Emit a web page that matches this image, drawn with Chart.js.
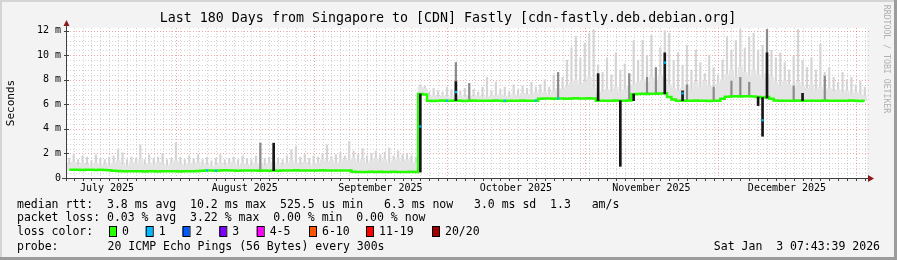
<!DOCTYPE html>
<html>
<head>
<meta charset="utf-8">
<script src="https://cdn.jsdelivr.net/npm/chart.js@4.4.1/dist/chart.umd.min.js"></script>
<style>
html, body { margin: 0; padding: 0; background: #f3f3f3; }
canvas { display: block; }
</style>
</head>
<body>
<canvas id="grafico" width="897" height="260"></canvas>
<script>
// eixo x em dias desde 1 jul 2025 (0 = 1 jul 00:00)
const primeiroDia = 7   // x da primeira amostra diaria

// mediana diaria (ms)
const mediana = [
  0.68,0.67,0.68,0.66,0.67,0.68,0.66,0.67,0.65,0.64,
  0.6,0.58,0.56,0.55,0.54,0.56,0.55,0.53,0.54,0.55,
  0.53,0.55,0.54,0.56,0.55,0.53,0.54,0.55,0.56,0.58,
  0.6,0.61,0.62,0.6,0.62,0.63,0.61,0.62,0.6,0.62,
  0.62,0.61,0.62,0.6,0.61,0.6,0.62,0.6,0.62,0.61,
  0.62,0.63,0.62,0.62,0.61,0.62,0.62,0.63,0.62,0.61,
  0.62,0.62,0.62,0.61,0.5,0.49,0.48,0.49,0.5,0.49,
  0.5,0.49,0.49,0.5,0.49,0.49,0.49,0.5,0.49,6.85,
  6.8,6.3,6.28,6.3,6.31,6.29,6.3,6.32,6.3,6.28,
  6.3,6.31,6.3,6.29,6.3,6.3,6.32,6.3,6.28,6.3,
  6.3,6.29,6.31,6.3,6.3,6.3,6.45,6.47,6.48,6.46,
  6.48,6.47,6.46,6.48,6.5,6.48,6.47,6.49,6.48,6.3,
  6.3,6.29,6.3,6.31,6.3,6.3,6.32,6.82,6.85,6.86,
  6.85,6.87,6.86,6.88,6.9,6.6,6.4,6.3,6.3,6.29,
  6.3,6.31,6.3,6.3,6.28,6.3,6.29,6.45,6.62,6.64,
  6.65,6.64,6.66,6.65,6.64,6.6,6.55,6.6,6.45,6.32,
  6.3,6.3,6.29,6.3,6.31,6.3,6.3,6.29,6.3,6.3,
  6.31,6.3,6.3,6.29,6.3,6.3,6.31,6.3,6.28,6.3
]

// topo da fumaca densa (ms)
const fumacaCorpo = [
  1.1,1.3,1.0,1.2,1.1,0.9,1.2,1.0,1.1,1.0,
  1.2,1.4,1.1,1.0,1.3,1.2,1.5,1.1,1.2,1.0,
  1.3,1.1,1.0,1.2,1.4,1.1,1.0,1.2,1.1,1.3,
  1.0,1.1,0.9,1.0,1.2,1.0,1.1,1.3,1.0,1.2,
  1.1,1.0,1.2,1.1,1.0,1.2,1.3,1.1,1.0,1.2,
  1.4,1.2,1.1,1.3,1.0,1.1,1.2,1.5,1.3,1.4,
  1.2,1.3,1.5,1.4,1.6,1.3,1.5,1.2,1.4,1.6,
  1.3,1.5,1.2,1.4,1.6,1.3,1.5,1.2,1.3,7.4,
  7.3,6.6,6.7,6.6,6.7,6.6,6.6,6.8,6.7,6.6,
  6.7,6.6,6.7,6.6,6.6,6.7,6.7,6.8,6.7,6.6,
  6.8,6.7,6.9,6.8,6.8,7.0,6.9,7.0,6.8,7.1,
  7.3,7.2,7.5,7.8,8.0,7.6,7.8,8.2,7.3,6.9,
  7.0,7.2,7.0,7.4,7.0,7.2,7.5,7.6,7.8,8.0,
  7.8,8.2,7.9,8.4,8.1,7.6,7.3,7.1,7.3,7.6,
  7.2,7.8,7.4,7.9,7.5,7.3,7.7,8.0,8.4,8.8,
  8.2,9.0,8.6,8.3,8.8,8.4,8.1,8.5,8.2,7.8,
  7.5,7.9,7.6,7.3,7.8,7.5,7.3,7.6,7.2,7.4,
  7.1,7.3,7.0,7.2,6.9,7.1,6.8,7.0,6.8,6.7
]

// pico da fumaca (ms)
const fumacaMax = [
  1.6,1.9,1.5,1.8,1.7,1.4,1.9,1.6,1.5,1.7,
  1.8,2.3,2.05,1.5,1.7,1.6,2.7,1.5,1.9,1.6,
  1.7,2.0,1.5,1.6,2.87,1.7,1.5,1.8,1.6,1.9,
  1.5,1.7,1.4,1.6,1.9,1.5,1.6,1.7,1.5,1.8,
  1.6,1.5,1.8,2.85,1.6,1.7,1.9,1.6,1.5,1.8,
  2.3,2.55,1.7,1.9,1.6,1.8,1.7,2.0,2.7,1.75,
  1.9,2.1,1.8,2.97,2.2,1.9,2.4,1.8,2.0,2.2,
  1.9,2.1,2.45,1.8,2.2,1.9,2.0,1.8,1.7,7.6,
  7.5,7.0,7.3,7.1,7.0,7.4,7.2,9.4,7.1,7.3,
  7.7,7.2,7.0,7.4,8.2,7.1,7.8,7.2,7.4,7.0,
  7.6,7.2,7.5,7.3,7.8,7.4,7.6,8.0,7.4,8.4,
  8.6,8.2,9.6,10.6,11.5,9.8,11.0,11.8,12.1,9.2,
  8.6,9.8,8.4,10.2,8.8,9.3,8.5,11.2,9.6,11.2,
  10.0,11.6,9.0,10.6,12.0,11.8,9.6,10.2,9.2,10.8,
  8.8,10.4,9.4,8.5,10.0,9.0,8.4,9.6,11.5,10.4,
  11.2,12.1,10.6,11.5,11.8,10.4,10.8,12.1,10.4,9.8,
  10.2,9.4,8.8,9.9,12.1,9.6,9.0,9.8,8.8,10.9,
  8.6,9.0,8.2,7.8,8.6,8.0,8.2,7.6,7.9,7.4
]

// riscos cinza escuro (indice da amostra, de, ate)
const cinzaIdx = [43, 87, 90, 110, 126, 130, 132, 139, 145, 149, 151, 153, 157, 163, 170]
const cinzaDe  = [0.62, 6.3, 6.3, 6.47, 6.3, 6.85, 6.85, 6.3, 6.3, 6.64, 6.64, 6.64, 6.6, 6.3, 6.3]
const cinzaAte = [2.85, 9.4, 7.7, 8.6, 8.5, 8.2, 9.0, 7.6, 7.4, 7.9, 8.2, 7.8, 12.1, 7.5, 8.3]

// riscos pretos
const pretoIdx = [46, 79, 87, 119, 124, 127, 134, 138, 155, 156, 157, 165]
const pretoDe  = [0.6, 0.49, 6.3, 6.3, 0.95, 6.3, 6.85, 6.3, 5.9, 3.4, 6.5, 6.3]
const pretoAte = [2.84, 6.85, 7.85, 8.5, 6.3, 6.85, 10.2, 7.1, 6.6, 6.55, 10.2, 6.9]

// pontos com perda 1/20
const perdaIdx = [31, 33, 79, 85, 87, 98, 105, 110, 134, 138, 156]
const perdaVal = [0.62, 0.6, 4.2, 6.3, 7.0, 6.3, 6.3, 6.47, 9.4, 6.9, 4.7]

// meses
const inicioMes = [31, 62, 92, 123, 153, 184]
const meioMes = [15.5, 46.5, 77, 107.5, 138, 168.5]
const nomeMes = ['July 2025', 'August 2025', 'September 2025', 'October 2025', 'November 2025', 'December 2025']
const yTicks = [0, 2, 4, 6, 8, 10, 12]

const corPerda = ['#26ff00', '#00b8ff', '#0059ff', '#7e00ff', '#ff00ff', '#ff5500', '#ff0000', '#a10000']
const nomePerda = ['0', '1', '2', '3', '4-5', '6-10', '11-19', '20/20']
const xPerda = [109, 145.7, 182.5, 219.3, 256.7, 309, 366, 432]

const MONO = '"DejaVu Sans Mono", monospace'
const CINZA_GRADE = 'rgba(150,150,150,0.42)'
const VERMELHO_GRADE = 'rgba(225,80,80,0.5)'

function serie(vals) {
  return vals.map((v, i) => ({ x: primeiroDia + i, y: v }))
}
function faixa(idx, de, ate) {
  return idx.map((k, j) => ({ x: primeiroDia + k, y: [de[j], ate[j]] }))
}

const moldura = {
  id: 'moldura',
  beforeDraw(chart) {
    const ctx = chart.ctx, a = chart.chartArea
    ctx.save()
    ctx.fillStyle = '#f3f3f3'
    ctx.fillRect(0, 0, chart.width, chart.height)
    ctx.fillStyle = '#ffffff'
    ctx.fillRect(a.left, a.top, a.right - a.left, a.bottom - a.top)
    ctx.restore()
  },
  beforeDatasetsDraw(chart) {
    const ctx = chart.ctx, a = chart.chartArea
    const xs = chart.scales.x, ys = chart.scales.y
    ctx.save()
    ctx.lineWidth = 1
    ctx.setLineDash([1, 2])
    // linhas horizontais
    for (let k = 1; k <= 30; k++) {
      const y = Math.round(ys.getPixelForValue(k * 0.4)) + 0.5
      ctx.strokeStyle = k % 5 === 0 ? VERMELHO_GRADE : CINZA_GRADE
      ctx.beginPath(); ctx.moveTo(a.left, y); ctx.lineTo(a.right + 3, y); ctx.stroke()
    }
    // linhas verticais a cada 2 dias
    ctx.strokeStyle = CINZA_GRADE
    for (let d = 8; d < 187; d += 2) {
      if (inicioMes.includes(d)) continue
      const x = Math.round(xs.getPixelForValue(d)) + 0.5
      ctx.beginPath(); ctx.moveTo(x, a.top); ctx.lineTo(x, a.bottom); ctx.stroke()
    }
    ctx.strokeStyle = VERMELHO_GRADE
    inicioMes.forEach((d) => {
      const x = Math.round(xs.getPixelForValue(d)) + 0.5
      ctx.beginPath(); ctx.moveTo(x, a.top); ctx.lineTo(x, a.bottom); ctx.stroke()
    })
    ctx.restore()
  },
  afterDatasetsDraw(chart) {
    const ctx = chart.ctx, a = chart.chartArea
    const xs = chart.scales.x, ys = chart.scales.y
    ctx.save()
    ctx.strokeStyle = '#404040'
    ctx.lineWidth = 1
    // eixos
    ctx.beginPath()
    ctx.moveTo(a.left - 0.5, a.bottom + 3); ctx.lineTo(a.left - 0.5, a.top - 4)
    ctx.moveTo(a.left - 5, a.bottom + 0.5); ctx.lineTo(a.right + 3, a.bottom + 0.5)
    ctx.stroke()
    // marcas
    ctx.beginPath()
    yTicks.forEach((v) => {
      const y = Math.round(ys.getPixelForValue(v)) + 0.5
      ctx.moveTo(a.left - 3, y); ctx.lineTo(a.left + 2, y)
    })
    for (let d = 8; d < 187; d += 2) {
      const x = Math.round(xs.getPixelForValue(d)) + 0.5
      ctx.moveTo(x, a.bottom); ctx.lineTo(x, a.bottom + 3)
    }
    ctx.stroke()
    // setas
    ctx.fillStyle = '#8b1a1a'
    ctx.beginPath()
    ctx.moveTo(a.left - 3.5, a.top - 2); ctx.lineTo(a.left + 2.5, a.top - 2); ctx.lineTo(a.left - 0.5, a.top - 8)
    ctx.closePath(); ctx.fill()
    ctx.beginPath()
    ctx.moveTo(a.right + 1, a.bottom - 3); ctx.lineTo(a.right + 1, a.bottom + 4); ctx.lineTo(a.right + 7, a.bottom + 0.5)
    ctx.closePath(); ctx.fill()
    ctx.restore()
  },
  afterDraw(chart) {
    const ctx = chart.ctx
    ctx.save()
    ctx.fillStyle = '#000'
    ctx.textBaseline = 'middle'
    // titulo
    ctx.font = '13.3px ' + MONO
    ctx.textAlign = 'center'
    ctx.fillText('Last 180 Days from Singapore to [CDN] Fastly [cdn-fastly.deb.debian.org]', 448, 19)
    // Seconds
    ctx.font = '11px ' + MONO
    ctx.save()
    ctx.translate(11, 103)
    ctx.rotate(-Math.PI / 2)
    ctx.fillText('Seconds', 0, 0)
    ctx.restore()
    // assinatura lateral
    ctx.save()
    ctx.font = '8.2px ' + MONO
    ctx.fillStyle = '#b0b0b0'
    ctx.translate(886, 59)
    ctx.rotate(Math.PI / 2)
    ctx.fillText('RRDTOOL / TOBI OETIKER', 0, 0)
    ctx.restore()
    // legenda
    ctx.font = '11.5px ' + MONO
    ctx.textAlign = 'left'
    ctx.fillText('median rtt:  3.8 ms avg  10.2 ms max  525.5 us min   6.3 ms now   3.0 ms sd  1.3   am/s', 17, 205)
    ctx.fillText('packet loss: 0.03 % avg  3.22 % max  0.00 % min  0.00 % now', 17, 218.5)
    ctx.fillText('loss color:', 17, 232.3)
    nomePerda.forEach((t, i) => {
      ctx.fillStyle = corPerda[i]
      ctx.fillRect(xPerda[i], 227, 7, 9)
      ctx.strokeStyle = '#000'
      ctx.lineWidth = 1
      ctx.strokeRect(xPerda[i] + 0.5, 226.5, 7, 10)
      ctx.fillStyle = '#000'
      ctx.fillText(t, xPerda[i] + 13, 232.3)
    })
    ctx.fillText('probe:', 17, 246.7)
    ctx.fillText('20 ICMP Echo Pings (56 Bytes) every 300s', 107.6, 246.7)
    ctx.textAlign = 'right'
    ctx.fillText('Sat Jan  3 07:43:39 2026', 880, 246.7)
    // moldura externa
    ctx.fillStyle = '#d4d4d4'
    ctx.fillRect(0, 0, chart.width, 2)
    ctx.fillRect(0, 0, 2, chart.height)
    ctx.fillStyle = '#9c9c9c'
    ctx.fillRect(chart.width - 3, 0, 3, chart.height)
    ctx.fillRect(0, chart.height - 3, chart.width, 3)
    ctx.restore()
  }
}

new Chart(document.getElementById('grafico'), {
  data: {
    datasets: [
      {
        type: 'bar', label: 'fumaca max', data: faixa(mediana.map((v, i) => i), mediana, fumacaMax),
        backgroundColor: '#d4d4d4', barThickness: 1.5, grouped: false, order: 10
      },
      {
        type: 'bar', label: 'fumaca', data: faixa(mediana.map((v, i) => i), mediana, fumacaCorpo),
        backgroundColor: '#e4e4e4', barThickness: 4.5, grouped: false, order: 9
      },
      {
        type: 'bar', label: 'cinza', data: faixa(cinzaIdx, cinzaDe, cinzaAte),
        backgroundColor: '#8a8a8a', barThickness: 1.5, grouped: false, order: 8
      },
      {
        type: 'line', label: 'mediana', data: serie(mediana),
        borderColor: '#26ff00', borderWidth: 2.5, pointRadius: 0, stepped: 'middle', order: 5
      },
      {
        type: 'bar', label: 'preto', data: faixa(pretoIdx, pretoDe, pretoAte),
        backgroundColor: '#161616', barThickness: 2, grouped: false, order: 4
      },
      {
        type: 'scatter', label: 'perda', data: perdaIdx.map((k, j) => ({ x: primeiroDia + k, y: perdaVal[j] })),
        backgroundColor: '#00b8ff', borderWidth: 0, pointStyle: 'rect', pointRadius: 1.6, order: 3
      }
    ]
  },
  options: {
    responsive: false,
    animation: false,
    devicePixelRatio: 1,
    layout: { padding: { top: 28, right: 30, left: 0, bottom: 0 } },
    plugins: { legend: { display: false }, tooltip: { enabled: false } },
    scales: {
      x: {
        type: 'linear', min: 6.5, max: 186.5, offset: false,
        grid: { display: false, drawTicks: false, offset: false },
        border: { display: false },
        afterBuildTicks: (s) => { s.ticks = meioMes.map((v) => ({ value: v })) },
        afterFit: (s) => { s.height = 82 },
        ticks: {
          autoSkip: false, maxRotation: 0, padding: 4, color: '#000',
          font: { family: 'DejaVu Sans Mono', size: 10 },
          callback: (v, i) => nomeMes[i]
        }
      },
      y: {
        type: 'linear', min: 0, max: 12.22,
        grid: { display: false, drawTicks: false },
        border: { display: false },
        afterBuildTicks: (s) => { s.ticks = yTicks.map((v) => ({ value: v })) },
        afterFit: (s) => { s.width = 67 },
        ticks: {
          padding: 6, color: '#000',
          font: { family: 'DejaVu Sans Mono', size: 10 },
          callback: (v) => v === 0 ? '0' : v + ' m'
        }
      }
    }
  },
  plugins: [moldura]
})
</script>
</body>
</html>
